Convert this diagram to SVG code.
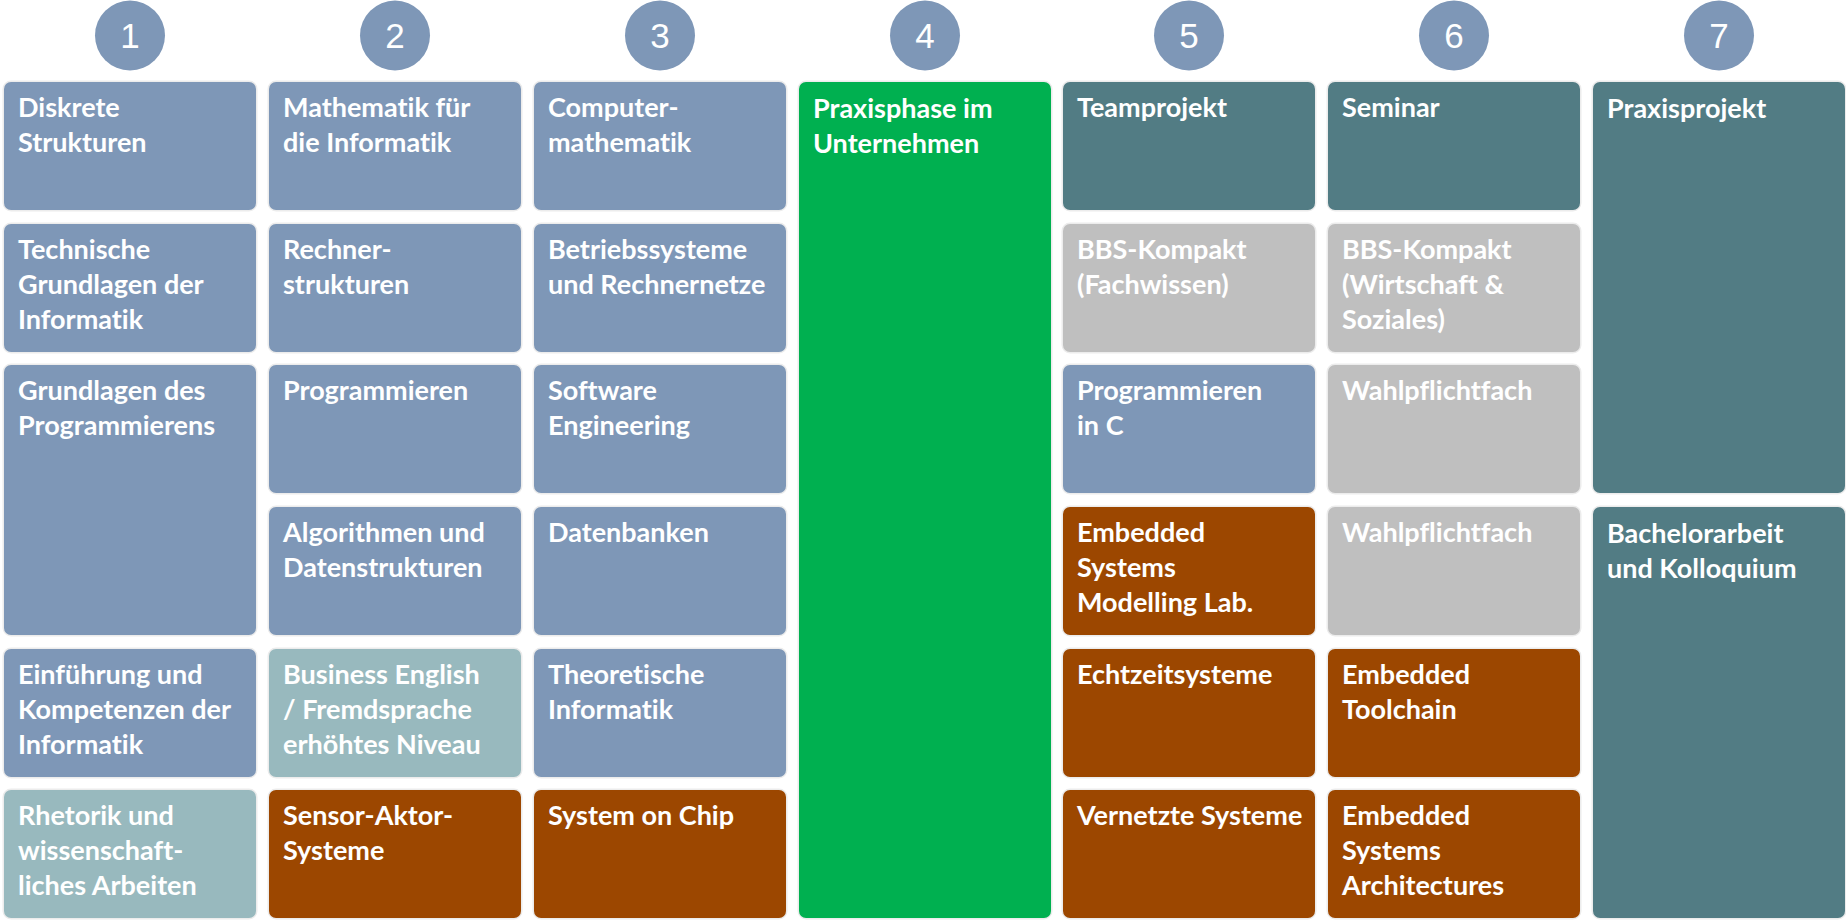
<svg xmlns="http://www.w3.org/2000/svg" width="1846" height="922" viewBox="0 0 1846 922">
<style>
rect{stroke:#ececec;stroke-width:3;paint-order:stroke}
.b{fill:#7e97b7}
.lt{fill:#98b9be}
.dt{fill:#527c84}
.g{fill:#bfbfbf}
.br{fill:#9c4700}
.gr{fill:#00b050}
.c{fill:#7e97b7}
text{font-family:Lato,"Open Sans","Liberation Sans",sans-serif;font-weight:bold;font-size:27px;fill:#fff;font-variant-ligatures:none;font-feature-settings:"liga" 0,"dlig" 0}
text.n{font-family:"Liberation Sans",Arial,sans-serif;font-weight:normal;font-size:35px;text-anchor:middle}
</style>
<rect width="1846" height="922" fill="#fff" style="stroke:none"/>
<g id="semesters">
<g id="s1"><circle class="c" cx="130" cy="35.5" r="35"/><text class="n" x="130" y="48">1</text></g>
<g id="s2"><circle class="c" cx="395" cy="35.5" r="35"/><text class="n" x="395" y="48">2</text></g>
<g id="s3"><circle class="c" cx="660" cy="35.5" r="35"/><text class="n" x="660" y="48">3</text></g>
<g id="s4"><circle class="c" cx="925" cy="35.5" r="35"/><text class="n" x="925" y="48">4</text></g>
<g id="s5"><circle class="c" cx="1189" cy="35.5" r="35"/><text class="n" x="1189" y="48">5</text></g>
<g id="s6"><circle class="c" cx="1454" cy="35.5" r="35"/><text class="n" x="1454" y="48">6</text></g>
<g id="s7"><circle class="c" cx="1719" cy="35.5" r="35"/><text class="n" x="1719" y="48">7</text></g>
</g>
<g id="connectors"/>
<!-- Column 1 -->
<g id="c1r1"><rect class="b" x="4" y="82" width="252" height="128" rx="7"/><text x="18" y="117">Diskrete<tspan x="18" dy="35">Strukturen</tspan></text></g>
<g id="c1r2"><rect class="b" x="4" y="224" width="252" height="128" rx="7"/><text x="18" y="259">Technische<tspan x="18" dy="35">Grundlagen der</tspan><tspan x="18" dy="35">Informatik</tspan></text></g>
<g id="c1r3"><rect class="b" x="4" y="365" width="252" height="270" rx="7"/><text x="18" y="400">Grundlagen des<tspan x="18" dy="35">Programmierens</tspan></text></g>
<g id="c1r5"><rect class="b" x="4" y="649" width="252" height="128" rx="7"/><text x="18" y="684">Einführung und<tspan x="18" dy="35">Kompetenzen der</tspan><tspan x="18" dy="35">Informatik</tspan></text></g>
<g id="c1r6"><rect class="lt" x="4" y="790" width="252" height="128" rx="7"/><text x="18" y="825">Rhetorik und<tspan x="18" dy="35">wissenschaft-</tspan><tspan x="18" dy="35">liches Arbeiten</tspan></text></g>
<!-- Column 2 -->
<g id="c2r1"><rect class="b" x="269" y="82" width="252" height="128" rx="7"/><text x="283" y="117">Mathematik für<tspan x="283" dy="35">die Informatik</tspan></text></g>
<g id="c2r2"><rect class="b" x="269" y="224" width="252" height="128" rx="7"/><text x="283" y="259">Rechner-<tspan x="283" dy="35">strukturen</tspan></text></g>
<g id="c2r3"><rect class="b" x="269" y="365" width="252" height="128" rx="7"/><text x="283" y="400">Programmieren</text></g>
<g id="c2r4"><rect class="b" x="269" y="507" width="252" height="128" rx="7"/><text x="283" y="542">Algorithmen und<tspan x="283" dy="35">Datenstrukturen</tspan></text></g>
<g id="c2r5"><rect class="lt" x="269" y="649" width="252" height="128" rx="7"/><text x="283" y="684">Business English<tspan x="283" dy="35">/ Fremdsprache</tspan><tspan x="283" dy="35">erhöhtes Niveau</tspan></text></g>
<g id="c2r6"><rect class="br" x="269" y="790" width="252" height="128" rx="7"/><text x="283" y="825">Sensor-Aktor-<tspan x="283" dy="35">Systeme</tspan></text></g>
<!-- Column 3 -->
<g id="c3r1"><rect class="b" x="534" y="82" width="252" height="128" rx="7"/><text x="548" y="117">Computer-<tspan x="548" dy="35">mathematik</tspan></text></g>
<g id="c3r2"><rect class="b" x="534" y="224" width="252" height="128" rx="7"/><text x="548" y="259">Betriebssysteme<tspan x="548" dy="35">und Rechnernetze</tspan></text></g>
<g id="c3r3"><rect class="b" x="534" y="365" width="252" height="128" rx="7"/><text x="548" y="400">Software<tspan x="548" dy="35">Engineering</tspan></text></g>
<g id="c3r4"><rect class="b" x="534" y="507" width="252" height="128" rx="7"/><text x="548" y="542">Datenbanken</text></g>
<g id="c3r5"><rect class="b" x="534" y="649" width="252" height="128" rx="7"/><text x="548" y="684">Theoretische<tspan x="548" dy="35">Informatik</tspan></text></g>
<g id="c3r6"><rect class="br" x="534" y="790" width="252" height="128" rx="7"/><text x="548" y="825">System on Chip</text></g>
<!-- Column 4 -->
<g id="c4"><rect class="gr" x="799" y="82" width="252" height="836" rx="7"/><text x="813" y="118">Praxisphase im<tspan x="813" dy="35">Unternehmen</tspan></text></g>
<!-- Column 5 -->
<g id="c5r1"><rect class="dt" x="1063" y="82" width="252" height="128" rx="7"/><text x="1077" y="117">Teamprojekt</text></g>
<g id="c5r2"><rect class="g" x="1063" y="224" width="252" height="128" rx="7"/><text x="1077" y="259">BBS-Kompakt<tspan x="1077" dy="35">(Fachwissen)</tspan></text></g>
<g id="c5r3"><rect class="b" x="1063" y="365" width="252" height="128" rx="7"/><text x="1077" y="400">Programmieren<tspan x="1077" dy="35">in C</tspan></text></g>
<g id="c5r4"><rect class="br" x="1063" y="507" width="252" height="128" rx="7"/><text x="1077" y="542">Embedded<tspan x="1077" dy="35">Systems</tspan><tspan x="1077" dy="35">Modelling Lab.</tspan></text></g>
<g id="c5r5"><rect class="br" x="1063" y="649" width="252" height="128" rx="7"/><text x="1077" y="684">Echtzeitsysteme</text></g>
<g id="c5r6"><rect class="br" x="1063" y="790" width="252" height="128" rx="7"/><text x="1077" y="825">Vernetzte Systeme</text></g>
<!-- Column 6 -->
<g id="c6r1"><rect class="dt" x="1328" y="82" width="252" height="128" rx="7"/><text x="1342" y="117">Seminar</text></g>
<g id="c6r2"><rect class="g" x="1328" y="224" width="252" height="128" rx="7"/><text x="1342" y="259">BBS-Kompakt<tspan x="1342" dy="35">(Wirtschaft &amp;</tspan><tspan x="1342" dy="35">Soziales)</tspan></text></g>
<g id="c6r3"><rect class="g" x="1328" y="365" width="252" height="128" rx="7"/><text x="1342" y="400">Wahlpflichtfach</text></g>
<g id="c6r4"><rect class="g" x="1328" y="507" width="252" height="128" rx="7"/><text x="1342" y="542">Wahlpflichtfach</text></g>
<g id="c6r5"><rect class="br" x="1328" y="649" width="252" height="128" rx="7"/><text x="1342" y="684">Embedded<tspan x="1342" dy="35">Toolchain</tspan></text></g>
<g id="c6r6"><rect class="br" x="1328" y="790" width="252" height="128" rx="7"/><text x="1342" y="825">Embedded<tspan x="1342" dy="35">Systems</tspan><tspan x="1342" dy="35">Architectures</tspan></text></g>
<!-- Column 7 -->
<g id="c7r1"><rect class="dt" x="1593" y="82" width="252" height="411" rx="7"/><text x="1607" y="118">Praxisprojekt</text></g>
<g id="c7r4"><rect class="dt" x="1593" y="507" width="252" height="411" rx="7"/><text x="1607" y="543">Bachelorarbeit<tspan x="1607" dy="35">und Kolloquium</tspan></text></g>
</svg>
